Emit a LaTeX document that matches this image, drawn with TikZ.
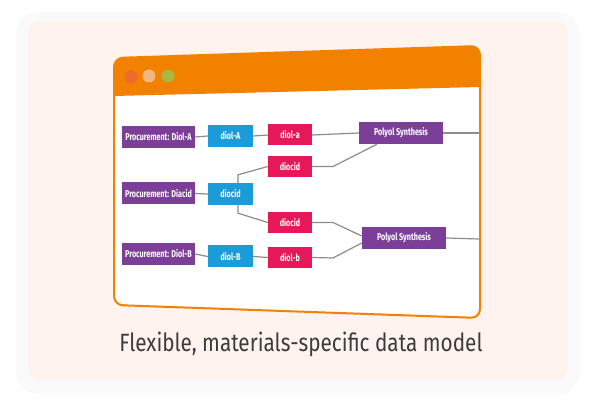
\documentclass[tikz,border=0pt]{standalone}
\usepackage{fontspec}
\setmainfont{Fira Sans}
\newfontfamily\nodefont[FakeStretch=0.72]{Fira Sans}
\newfontfamily\titlefont[FakeStretch=0.83]{Fira Sans}
\definecolor{peach}{HTML}{FEF3EE}
\definecolor{shadowc}{HTML}{FAFAFA}
\definecolor{winorange}{HTML}{F38100}
\definecolor{dotred}{HTML}{EE6A2E}
\definecolor{dotpeach}{HTML}{F2B680}
\definecolor{dotgreen}{HTML}{A9B93F}
\definecolor{cpurple}{HTML}{7B3F98}
\definecolor{cblue}{HTML}{1B9BD7}
\definecolor{cpink}{HTML}{E6185A}
\definecolor{linec}{HTML}{8C8C8C}
\definecolor{titlec}{HTML}{3C3C3C}
\tikzset{
  box/.style={inner sep=0pt, text=white, font=\nodefont\bfseries\fontsize{10}{11}\selectfont},
  procbox/.style={box, fill=cpurple, minimum width=73pt, minimum height=22pt},
  bluebox/.style={box, fill=cblue, minimum width=45pt, minimum height=22pt},
  pinkbox/.style={box, fill=cpink, minimum width=44pt, minimum height=21pt},
  synbox/.style={box, fill=cpurple, minimum width=84pt, minimum height=22pt},
  conn/.style={draw=linec, line width=1.2pt}
}
\begin{document}
\begin{tikzpicture}[x=1pt,y=-1pt]
\useasboundingbox (0,0) rectangle (592,406);
\fill[white] (0,0) rectangle (592,406);
% background card with soft shadow
\fill[shadowc, rounded corners=22pt] (16,12) rectangle (580,394);
\fill[peach, rounded corners=11pt] (28,21) rectangle (568,380);
% window
\draw[winorange, line width=2pt, fill=white, rounded corners=9pt]
  (114,58) -- (480,46) -- (480,318) -- (114,305) -- cycle;
\fill[winorange] (114,96) [rounded corners=9pt] -- (114,58) -- (480,46) [sharp corners] -- (480,87) -- cycle;
\fill[dotred] (131,77) circle (6.5pt);
\fill[dotpeach] (149,76) circle (6.5pt);
\fill[dotgreen] (168,76) circle (6.5pt);
% nodes
\node[procbox] (pA) at (158.5,137) {Procurement: Diol-A};
\node[bluebox] (dA) at (230.5,136) {diol-A};
\node[pinkbox] (da) at (290,135) {diol-a};
\node[pinkbox] (dc1) at (290,166.5) {diocid};
\node[procbox] (pD) at (158.5,193.5) {Procurement: Diacid};
\node[bluebox] (dcb) at (230.5,194) {diocid};
\node[pinkbox] (dc2) at (290,222.5) {diocid};
\node[procbox] (pB) at (158.5,254) {Procurement: Diol-B};
\node[bluebox] (dB) at (230.5,256.5) {diol-B};
\node[pinkbox] (db) at (290,257.5) {diol-b};
\node[synbox] (ps1) at (401,133) {Polyol Synthesis};
\node[synbox] (ps2) at (404,238) {Polyol Synthesis};
\coordinate (k1) at (333,166.5);
\coordinate (k2) at (333,222.5);
\coordinate (k3) at (333,258);
\coordinate (o1) at (479,133);
\coordinate (o2) at (479,239);
% connectors
\draw[conn] (pA.east) -- (dA.west);
\draw[conn] (dA.east) -- (da.west);
\draw[conn] (da.east) -- (ps1.west);
\draw[conn] (dc1.east) -- (k1) -- ([xshift=-24pt]ps1.south);
\draw[conn] (pD.east) -- (dcb.west);
\draw[conn] ([xshift=7.5pt]dcb.north) -- ++(0,-8) -- (dc1.west);
\draw[conn] ([xshift=7.5pt]dcb.south) -- ++(0,8) -- (dc2.west);
\draw[conn] (dc2.east) -- (k2) -- ([yshift=2pt]ps2.west);
\draw[conn] (pB.east) -- (dB.west);
\draw[conn] (dB.east) -- (db.west);
\draw[conn] (db.east) -- (k3) -- ([yshift=-5pt]ps2.west);
\draw[conn] (ps1.east) -- (o1);
\draw[conn] (ps2.east) -- (o2);
% title
\node[text=titlec, font=\titlefont\fontsize{25}{27}\selectfont, inner sep=0pt] (title) at (301,344) {Flexible, materials-specific data model};
\end{tikzpicture}
\end{document}
